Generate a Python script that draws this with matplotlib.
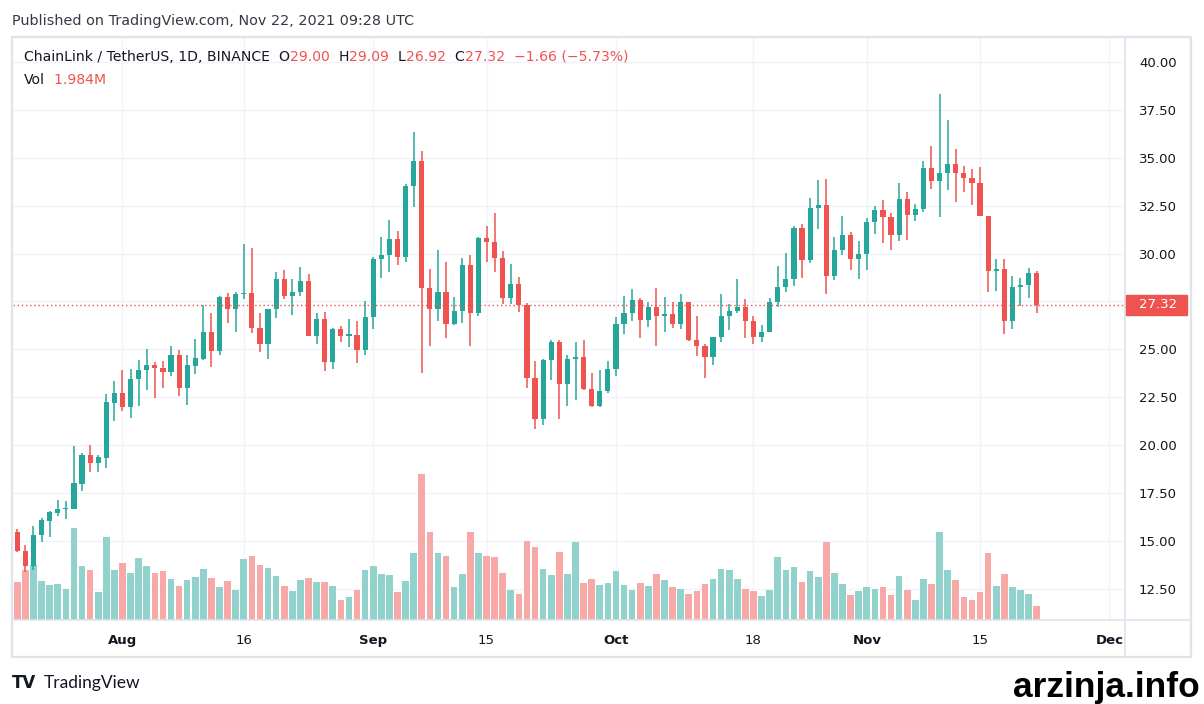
import numpy as np
import pandas as pd
import matplotlib
matplotlib.use("Agg")
import matplotlib.pyplot as plt
import matplotlib.dates as mdates
import matplotlib.transforms as mtransforms
from matplotlib.lines import Line2D
from matplotlib.patches import Rectangle

# ---------------- data (LINK/USDT daily, Binance) ----------------
start_date = "2021-07-19"
opens = [15.45, 14.49, 13.70, 15.31, 16.06, 16.48, 16.69, 16.69, 17.97, 19.49,
         19.07, 19.33, 22.22, 22.72, 22.01, 23.43, 23.92, 24.19, 24.05, 23.84,
         24.71, 23.00, 24.15, 24.50, 25.91, 24.93, 27.73, 27.12, 27.89, 27.94,
         26.13, 25.30, 27.11, 28.67, 27.80, 28.00, 28.57, 25.72, 26.59, 24.36,
         26.06, 25.72, 25.75, 24.98, 26.69, 29.72, 29.93, 30.76, 29.84, 33.53,
         34.83, 28.22, 27.12, 28.00, 26.34, 27.00, 29.40, 26.92, 30.83, 30.62,
         29.79, 27.70, 28.41, 27.32, 23.52, 21.38, 24.46, 25.39, 23.21, 24.50,
         24.60, 22.95, 22.06, 22.83, 23.98, 26.33, 26.90, 27.58, 26.55, 27.21,
         26.76, 26.85, 26.34, 27.47, 25.51, 25.19, 24.62, 25.66, 26.76, 27.02,
         27.23, 26.50, 25.66, 25.92, 27.47, 28.26, 28.67, 31.34, 29.68, 32.38,
         32.54, 28.85, 30.19, 30.97, 29.73, 29.98, 31.65, 32.28, 31.93, 30.99,
         32.85, 32.03, 32.33, 34.47, 33.80, 34.21, 34.68, 34.22, 33.96, 33.70,
         31.98, 29.11, 29.20, 26.50, 28.26, 28.36, 29.00]
highs = [15.61, 14.80, 15.78, 16.22, 16.57, 17.14, 17.10, 19.96, 19.59, 20.01,
         19.50, 22.67, 23.35, 23.92, 23.98, 24.45, 25.02, 24.34, 24.39, 25.18,
         24.97, 24.71, 25.54, 27.30, 26.90, 27.79, 27.94, 28.00, 30.50, 30.29,
         26.90, 27.11, 29.04, 29.14, 28.67, 29.30, 28.94, 26.90, 26.95, 26.12,
         26.24, 26.59, 26.48, 27.53, 29.82, 30.87, 31.75, 31.18, 33.63, 36.35,
         35.35, 29.20, 30.19, 29.56, 27.73, 29.77, 29.93, 30.88, 31.44, 32.12,
         30.14, 29.46, 28.78, 27.42, 24.39, 24.50, 25.49, 25.49, 24.71, 25.39,
         25.49, 23.77, 23.92, 24.39, 26.69, 27.79, 28.15, 27.68, 27.47, 28.20,
         27.73, 27.47, 27.89, 27.47, 26.76, 25.30, 25.66, 27.89, 27.37, 28.67,
         27.63, 26.74, 26.27, 27.68, 29.35, 30.03, 31.44, 31.54, 32.90, 33.84,
         33.89, 30.87, 31.96, 31.13, 30.66, 31.86, 32.48, 32.80, 32.12, 33.68,
         33.22, 32.59, 34.83, 35.62, 38.33, 36.97, 35.46, 34.57, 34.42, 34.52,
         31.98, 29.72, 29.72, 28.83, 28.73, 29.25, 29.09]
lows = [14.44, 13.40, 13.49, 14.96, 15.22, 16.32, 16.15, 16.67, 17.61, 18.60,
        18.60, 18.81, 21.26, 21.80, 21.44, 22.06, 22.90, 22.48, 23.00, 23.63,
        22.58, 22.11, 23.72, 24.45, 24.10, 24.72, 26.39, 25.92, 27.65, 25.87,
        24.88, 24.51, 26.65, 27.65, 26.81, 27.80, 25.72, 25.30, 23.89, 23.99,
        25.40, 25.14, 24.31, 24.72, 26.08, 28.74, 29.06, 29.42, 29.58, 32.45,
        23.78, 25.19, 26.50, 25.61, 26.29, 26.39, 25.19, 26.76, 29.58, 29.06,
        27.39, 27.39, 26.97, 23.00, 20.86, 21.07, 23.42, 21.38, 22.06, 22.37,
        22.90, 22.00, 22.00, 22.74, 23.63, 25.82, 26.50, 25.61, 26.18, 25.19,
        25.92, 26.13, 26.08, 25.46, 24.67, 23.52, 24.20, 25.40, 26.03, 26.92,
        25.61, 25.30, 25.40, 25.92, 27.23, 28.01, 28.32, 28.74, 29.52, 31.30,
        27.91, 28.64, 29.94, 29.16, 28.69, 29.16, 31.04, 30.57, 30.20, 30.67,
        30.73, 31.72, 32.19, 33.39, 31.93, 33.34, 32.71, 33.23, 32.55, 31.98,
        28.01, 28.06, 25.82, 26.08, 27.28, 27.70, 26.92]
closes = [14.49, 13.70, 15.31, 16.10, 16.51, 16.67, 16.74, 18.03, 19.49, 19.07,
          19.38, 22.25, 22.72, 22.01, 23.46, 23.92, 24.19, 24.05, 23.84, 24.71,
          23.00, 24.19, 24.57, 25.91, 24.93, 27.73, 27.12, 27.89, 27.94, 26.13,
          25.30, 27.11, 28.67, 27.80, 28.00, 28.57, 25.72, 26.59, 24.36, 26.06,
          25.72, 25.75, 24.98, 26.69, 29.72, 29.93, 30.76, 29.84, 33.53, 34.83,
          28.22, 27.12, 28.00, 26.34, 27.00, 29.40, 26.92, 30.83, 30.62, 29.79,
          27.70, 28.41, 27.32, 23.52, 21.38, 24.46, 25.39, 23.21, 24.50, 24.60,
          22.95, 22.06, 22.83, 23.98, 26.33, 26.90, 27.58, 26.55, 27.21, 26.76,
          26.85, 26.34, 27.47, 25.51, 25.19, 24.62, 25.66, 26.76, 27.02, 27.23,
          26.50, 25.66, 25.92, 27.47, 28.26, 28.67, 31.34, 29.68, 32.38, 32.54,
          28.85, 30.19, 30.97, 29.73, 29.98, 31.65, 32.28, 31.93, 30.99, 32.85,
          32.03, 32.33, 34.47, 33.80, 34.21, 34.68, 34.22, 33.96, 33.70, 31.98,
          29.11, 29.20, 26.50, 28.26, 28.36, 29.00, 27.32]
volumes_m = [5.39, 7.09, 7.75, 5.53, 4.96, 5.10, 4.39, 13.04, 7.65, 7.09,
             3.97, 11.76, 7.09, 8.08, 6.66, 8.79, 7.65, 6.66, 6.94, 5.81,
             4.82, 5.67, 6.09, 7.23, 5.95, 4.68, 5.53, 4.25, 8.64, 9.07,
             7.79, 7.37, 6.24, 4.82, 4.11, 5.67, 5.95, 5.39, 5.39, 4.82,
             2.83, 3.26, 4.25, 7.09, 7.65, 6.52, 6.38, 3.97, 5.53, 9.50,
             20.69, 12.47, 9.50, 9.07, 4.68, 6.52, 12.47, 9.50, 9.07, 8.93,
             6.66, 4.25, 3.68, 11.20, 10.35, 7.23, 6.38, 9.64, 6.52, 11.05,
             5.24, 5.81, 4.96, 5.24, 6.94, 4.96, 4.25, 5.24, 4.82, 6.52,
             5.67, 4.68, 4.39, 3.68, 4.11, 5.10, 5.81, 7.23, 7.09, 5.81,
             4.39, 4.11, 3.40, 4.25, 8.93, 7.09, 7.51, 5.39, 6.94, 6.09,
             11.05, 6.66, 5.10, 3.54, 4.11, 4.68, 4.39, 4.68, 3.54, 6.24,
             4.25, 2.83, 5.81, 5.10, 12.47, 7.09, 5.67, 3.26, 2.83, 3.97,
             9.50, 4.82, 6.52, 4.68, 4.25, 3.68, 1.98]
price_ticks = [12.5, 15.0, 17.5, 20.0, 22.5, 25.0, 27.5, 30.0, 32.5, 35.0, 37.5, 40.0]
date_ticks = ["2021-08-01", "2021-08-16", "2021-09-01", "2021-09-15", "2021-10-01",
              "2021-10-18", "2021-11-01", "2021-11-15", "2021-12-01"]
date_labels = ["Aug", "16", "Sep", "15", "Oct", "18", "Nov", "15", "Dec"]
month_labels = {"Aug", "Sep", "Oct", "Nov", "Dec"}
last_price = 27.32

# ---------------- styling ----------------
UP = "#26a69a"
DOWN = "#ef5350"
UP_VOL = "#92d2cc"
DOWN_VOL = "#f7a9a7"
TEXT = "#131722"
GRID = "#f0f3fa"
BORDER = "#e0e3eb"
plt.rcParams["font.family"] = ["DejaVu Sans"]

W, H = 1204, 704
fig = plt.figure(figsize=(W / 100, H / 100), dpi=100, facecolor="white")


def fx(px):
    return px / W


def fy(py):
    return 1 - py / H


pos = [fx(13), fy(620), fx(1125) - fx(13), fy(37) - fy(620)]
ax_grid = fig.add_axes(pos)
ax_vol = fig.add_axes(pos, sharex=ax_grid)
ax = fig.add_axes(pos, sharex=ax_grid, sharey=ax_grid)

dates = pd.date_range(start_date, periods=len(closes), freq="D")
x = mdates.date2num(dates)
o = np.array(opens)
h = np.array(highs)
l = np.array(lows)
c = np.array(closes)
v = np.array(volumes_m)
up = c >= o

# grid layer
ax_grid.set_facecolor("white")
ax_grid.set_xlim(x[0] - 0.53, x[0] + 136.92)
ax_grid.set_ylim(10.88, 41.30)
ax_grid.set_yticks(price_ticks)
ax_grid.set_xticks(mdates.date2num(pd.to_datetime(date_ticks)))
ax_grid.grid(True, color=GRID, lw=1)
ax_grid.tick_params(left=False, bottom=False, labelleft=False, labelbottom=False)
for s in ax_grid.spines.values():
    s.set_visible(False)

# volume layer
ax_vol.patch.set_visible(False)
ax_vol.bar(x, v, width=0.82, color=np.where(up, UP_VOL, DOWN_VOL), linewidth=0)
ax_vol.set_ylim(0, 82.6)
ax_vol.tick_params(left=False, bottom=False, labelleft=False, labelbottom=False)
for s in ax_vol.spines.values():
    s.set_visible(False)

# candle layer
ax.patch.set_visible(False)
colors = np.where(up, UP, DOWN)
ax.vlines(x, l, h, colors=colors, linewidth=1.1)
body_lo = np.minimum(o, c)
body_h = np.maximum(np.abs(c - o), 0.06)
ax.bar(x, body_h, bottom=body_lo, width=0.64, color=colors, linewidth=0)
ax.axhline(last_price, color=DOWN, lw=1, linestyle=(0, (1, 2)))
for s in ax.spines.values():
    s.set_visible(False)
ax.yaxis.tick_right()
ax.tick_params(axis="y", length=0, pad=10, labelsize=9.5, labelcolor=TEXT)
ax.tick_params(axis="x", length=0, pad=10, labelsize=9.5, labelcolor=TEXT)
ax.set_yticklabels([f"{t:.2f}" for t in price_ticks])
ax.set_xticklabels(date_labels)
for lab in ax.get_xticklabels():
    if lab.get_text() in month_labels:
        lab.set_fontweight("bold")

# last price tag
blend = mtransforms.blended_transform_factory(ax.transAxes, ax.transData)
ax.add_patch(Rectangle((1.0, last_price - 0.5), 62 / 1112, 1.0, transform=blend,
                       facecolor=DOWN, edgecolor=DOWN, clip_on=False, zorder=5))
ax.text(1.0 + 14 / 1112, last_price, f"{last_price:.2f}", transform=blend, color="white",
        ha="left", va="center", fontsize=9.5, zorder=6, clip_on=False)

# frame lines
fig.add_artist(Line2D([fx(12), fx(1191), fx(1191), fx(12), fx(12)],
                      [fy(37), fy(37), fy(657), fy(657), fy(37)],
                      color=BORDER, lw=1.6, transform=fig.transFigure))
fig.add_artist(Line2D([fx(1125), fx(1125)], [fy(37), fy(657)], color=BORDER, lw=1.2,
                      transform=fig.transFigure))
fig.add_artist(Line2D([fx(12), fx(1191)], [fy(620), fy(620)], color=BORDER, lw=1.2,
                      transform=fig.transFigure))

# header
fig.text(fx(12), fy(25), "Published on TradingView.com, Nov 22, 2021 09:28 UTC",
         color="#363a45", fontsize=10.4, va="baseline", ha="left")


def chain(parts, x0, y0, size):
    prev = fig.text(x0, y0, parts[0][0], color=parts[0][1], fontsize=size,
                    va="baseline", ha="left")
    for s, col in parts[1:]:
        prev = ax.annotate(s, xy=(1, 0), xycoords=prev, xytext=(0, 0),
                           textcoords="offset points", va="bottom", ha="left",
                           color=col, fontsize=size, annotation_clip=False)
    return prev


chain([("ChainLink / TetherUS, 1D, BINANCE", TEXT),
       ("  O", TEXT), (f"{opens[-1]:.2f}", DOWN),
       ("  H", TEXT), (f"{highs[-1]:.2f}", DOWN),
       ("  L", TEXT), (f"{lows[-1]:.2f}", DOWN),
       ("  C", TEXT), (f"{closes[-1]:.2f}", DOWN),
       ("  \u22121.66 (\u22125.73%)", DOWN)], fx(24), fy(61), 10.1)
chain([("Vol", TEXT), ("  1.984M", DOWN)], fx(24), fy(84), 10.1)

# footer
fig.text(fx(12), fy(688), "TV", color=TEXT, fontsize=12, fontweight="heavy",
         va="baseline", ha="left")
fig.text(fx(44), fy(688), "TradingView", color=TEXT, fontsize=12.5, family="Lato",
         va="baseline", ha="left")
fig.text(fx(1200), fy(697), "arzinja.info", color="black", fontsize=25.5,
         family="Liberation Sans", fontweight="bold", va="baseline", ha="right")

fig.savefig("out.png", dpi=100, facecolor="white")
